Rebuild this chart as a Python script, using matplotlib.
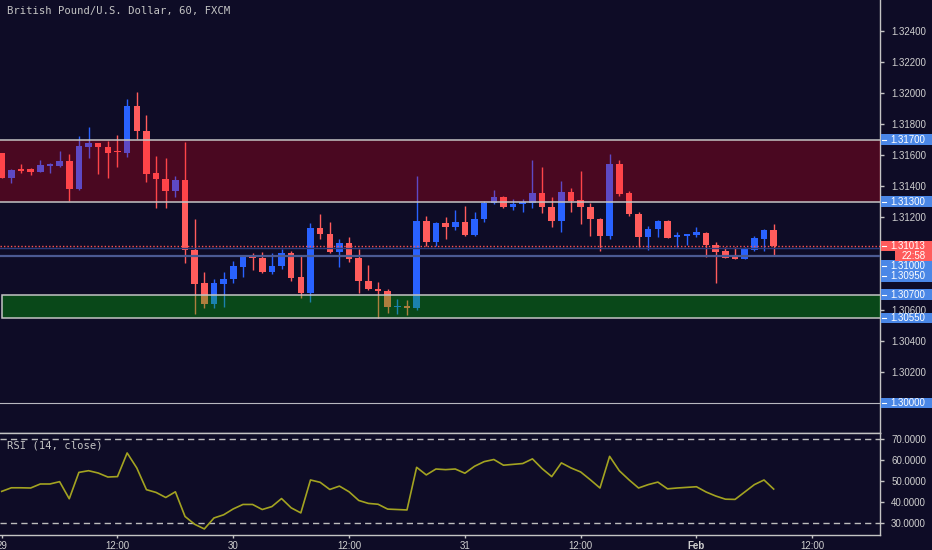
import matplotlib
matplotlib.use("Agg")
import matplotlib.pyplot as plt
import matplotlib.transforms as mtransforms
from matplotlib.patches import Rectangle
from matplotlib.lines import Line2D
import numpy as np

plt.rcParams['font.family'] = ['Liberation Sans', 'DejaVu Sans']

# ---------------- data (GBP/USD, 60 min, FXCM) ----------------
opens = [1.31611, 1.31454, 1.31510, 1.31507, 1.31492, 1.31532, 1.31529, 1.31561, 1.31380, 1.31653,
         1.31679, 1.31653, 1.31619, 1.31614, 1.31914, 1.31756, 1.31481, 1.31447, 1.31369, 1.31438,
         1.30987, 1.30772, 1.30639, 1.30769, 1.30798, 1.30877, 1.30944, 1.30937, 1.30843, 1.30882,
         1.30966, 1.30811, 1.30708, 1.31131, 1.31092, 1.30976, 1.31032, 1.30935, 1.30787, 1.30735,
         1.30724, 1.30621, 1.30626, 1.30611, 1.31172, 1.31040, 1.31159, 1.31135, 1.31167, 1.31082,
         1.31187, 1.31288, 1.31327, 1.31262, 1.31282, 1.31290, 1.31353, 1.31266, 1.31176, 1.31359,
         1.31307, 1.31266, 1.31187, 1.31077, 1.31540, 1.31353, 1.31219, 1.31073, 1.31120, 1.31172,
         1.31069, 1.31077, 1.31084, 1.31098, 1.31019, 1.30978, 1.30940, 1.30927, 1.30987, 1.31058,
         1.31116]
highs = [1.31613, 1.31510, 1.31540, 1.31518, 1.31565, 1.31548, 1.31625, 1.31606, 1.31724, 1.31778,
         1.31680, 1.31692, 1.31729, 1.31961, 1.32004, 1.31856, 1.31593, 1.31582, 1.31464, 1.31685,
         1.31185, 1.30843, 1.30800, 1.30843, 1.30914, 1.30955, 1.30966, 1.30972, 1.30966, 1.30995,
         1.30980, 1.30955, 1.31159, 1.31221, 1.31167, 1.31058, 1.31069, 1.30991, 1.30890, 1.30780,
         1.30735, 1.30671, 1.30664, 1.31464, 1.31204, 1.31169, 1.31198, 1.31245, 1.31271, 1.31230,
         1.31303, 1.31374, 1.31337, 1.31318, 1.31316, 1.31567, 1.31520, 1.31329, 1.31430, 1.31389,
         1.31496, 1.31290, 1.31193, 1.31606, 1.31567, 1.31367, 1.31232, 1.31142, 1.31180, 1.31180,
         1.31103, 1.31090, 1.31137, 1.31105, 1.31037, 1.31004, 1.31004, 1.31004, 1.31077, 1.31124,
         1.31155]
lows = [1.31450, 1.31417, 1.31482, 1.31471, 1.31488, 1.31484, 1.31524, 1.31303, 1.31374, 1.31582,
        1.31477, 1.31451, 1.31524, 1.31589, 1.31701, 1.31424, 1.31256, 1.31256, 1.31331, 1.30901,
        1.30572, 1.30611, 1.30611, 1.30617, 1.30772, 1.30815, 1.30856, 1.30840, 1.30832, 1.30862,
        1.30789, 1.30675, 1.30653, 1.31056, 1.30966, 1.30875, 1.30909, 1.30708, 1.30728, 1.30546,
        1.30582, 1.30574, 1.30568, 1.30600, 1.31013, 1.31013, 1.31058, 1.31116, 1.31077, 1.31077,
        1.31169, 1.31287, 1.31258, 1.31245, 1.31230, 1.31260, 1.31224, 1.31137, 1.31103, 1.31232,
        1.31155, 1.31077, 1.30980, 1.31056, 1.31337, 1.31206, 1.31004, 1.30987, 1.31073, 1.31064,
        1.31008, 1.31019, 1.31069, 1.30944, 1.30776, 1.30935, 1.30927, 1.30927, 1.30980, 1.30980,
        1.30955]
closes = [1.31454, 1.31503, 1.31498, 1.31492, 1.31535, 1.31535, 1.31561, 1.31380, 1.31660, 1.31679,
          1.31649, 1.31614, 1.31617, 1.31914, 1.31754, 1.31479, 1.31445, 1.31369, 1.31438, 1.30987,
          1.30769, 1.30639, 1.30774, 1.30800, 1.30882, 1.30942, 1.30933, 1.30843, 1.30884, 1.30966,
          1.30806, 1.30708, 1.31131, 1.31090, 1.30976, 1.31032, 1.30931, 1.30787, 1.30733, 1.30724,
          1.30621, 1.30626, 1.30611, 1.31174, 1.31040, 1.31161, 1.31135, 1.31167, 1.31082, 1.31189,
          1.31290, 1.31327, 1.31262, 1.31282, 1.31296, 1.31355, 1.31262, 1.31176, 1.31359, 1.31303,
          1.31264, 1.31185, 1.31077, 1.31540, 1.31348, 1.31219, 1.31073, 1.31122, 1.31172, 1.31066,
          1.31082, 1.31090, 1.31103, 1.31017, 1.30976, 1.30937, 1.30927, 1.30991, 1.31062, 1.31116,
          1.31013]
rsi = [45.1, 46.8, 46.8, 46.7, 48.6, 48.6, 49.7, 41.6, 54.1, 54.9,
       53.8, 51.9, 52.1, 63.3, 56.2, 45.9, 44.6, 42.2, 44.9, 33.2,
       29.5, 27.3, 32.5, 34.0, 36.8, 38.9, 38.9, 36.5, 37.9, 41.7,
       37.3, 34.9, 50.5, 49.4, 46.0, 47.6, 44.9, 40.8, 39.4, 39.0,
       36.7, 36.5, 36.3, 56.5, 52.9, 55.7, 55.4, 55.7, 53.7, 57.0,
       59.2, 60.2, 57.5, 57.9, 58.3, 60.5, 55.9, 52.1, 58.6, 56.2,
       54.3, 50.6, 46.7, 61.7, 54.9, 50.6, 46.7, 48.3, 49.5, 46.3,
       46.7, 47.0, 47.3, 44.8, 42.9, 41.4, 41.3, 44.8, 48.3, 50.5,
       46.2]

time_ticks = [0, 12, 24, 36, 48, 60, 72, 84]
time_labels = ['29', '12:00', '30', '12:00', '31', '12:00', 'Feb', '12:00']
price_ticks = [1.324, 1.322, 1.320, 1.318, 1.316, 1.314, 1.312, 1.306, 1.304, 1.302]
rsi_ticks = [30, 40, 50, 60, 70]

supply_zone = (1.3130, 1.3170)
demand_zone = (1.3055, 1.3070)
level_lines = [1.3100, 1.3095, 1.3000]
last_price = 1.31013
countdown = '22:58'

# ---------------- style ----------------
BG = '#0e0c26'
UP = '#2962ff'
DOWN = '#ff5c5c'
GRID = '#c4c4c4'
TXT = '#cfcfcf'
LBL_BLUE = '#4a87e6'

W, H = 932, 550
fig = plt.figure(figsize=(W / 100, H / 100), dpi=100)
fig.patch.set_facecolor(BG)

ax = fig.add_axes([0, (H - 433) / H, 880 / W, 433 / H])
rax = fig.add_axes([0, (H - 535) / H, 880 / W, 102 / H])
for a in (ax, rax):
    a.set_facecolor(BG)
    for s in a.spines.values():
        s.set_color(GRID)
        s.set_linewidth(1.0)
    a.spines['left'].set_visible(False)

ax.spines['top'].set_visible(False)
n = len(opens)
x = np.arange(n)
o = np.array(opens); c = np.array(closes); hi = np.array(highs); lo = np.array(lows)
cols = [UP if cc >= oo else DOWN for oo, cc in zip(o, c)]

ax.vlines(x, lo, hi, colors=cols, lw=1.0, zorder=2)
heights = np.maximum(np.abs(c - o), 0.00008)
ax.bar(x, heights, bottom=np.minimum(o, c), width=0.68, color=cols, linewidth=0, zorder=2.1)

xmin, xmax = -0.176, 91.02
ax.set_xlim(xmin, xmax)
ax.set_ylim(1.298065, 1.326)

# zones (overlay on top of candles)
ax.add_patch(Rectangle((-5, supply_zone[0]), 200, supply_zone[1] - supply_zone[0],
                       facecolor=(1.0, 0.0, 0.08, 0.25), edgecolor=GRID, lw=1.1, zorder=3))
ax.add_patch(Rectangle((-0.02, demand_zone[0]), 200, demand_zone[1] - demand_zone[0],
                       facecolor=(0.0, 0.78, 0.0, 0.32), edgecolor=GRID, lw=1.1, zorder=3))

ax.axhline(level_lines[0], color='#2c3c7c', lw=1.0, zorder=3.5)
ax.axhline(level_lines[1], color='#4b5a92', lw=1.6, zorder=3.5)
ax.axhline(level_lines[2], color='#b8b8c0', lw=0.8, zorder=3.5)
ax.axhline(last_price, color='#ff5252', lw=1.0, ls=(0, (1, 1.5)), zorder=3.6)

ax.set_xticks([])
ax.yaxis.tick_right()
ax.set_yticks(price_ticks)
ax.set_yticklabels([f'{v:.5f}' for v in price_ticks])
ax.tick_params(axis='y', colors=GRID, labelcolor=TXT, labelsize=7, length=3, width=1, pad=5)

# RSI panel
rax.plot(x, rsi, color='#a3a321', lw=1.2, zorder=3)
for lvl in (70, 30):
    rax.axhline(lvl, color='#bdbdbd', lw=1.0, ls=(0, (4.5, 3)), zorder=2)
rax.set_xlim(xmin, xmax)
rax.set_ylim(24.43, 72.76)
rax.yaxis.tick_right()
rax.set_yticks(rsi_ticks)
rax.set_yticklabels([f'{v:.4f}' for v in rsi_ticks])
rax.tick_params(axis='y', colors=GRID, labelcolor=TXT, labelsize=7, length=3, width=1, pad=5)
rax.set_xticks(time_ticks)
rax.set_xticklabels(time_labels)
rax.tick_params(axis='x', colors=GRID, labelcolor=TXT, labelsize=7, length=2.5, width=1, pad=2)
for t in rax.get_xticklabels():
    if t.get_text() == 'Feb':
        t.set_fontweight('bold')

# right-axis price labels in boxes
def rlabel(yv, txt, fc, dy=0.0, x0=881, tick=True):
    trans = (mtransforms.blended_transform_factory(fig.transFigure, ax.transData)
             + mtransforms.ScaledTranslation(0, -dy / 100, fig.dpi_scale_trans))
    h = 10.5 / 15500
    fig.add_artist(Rectangle((x0 / W, yv - h / 2), (W - x0) / W, h, transform=trans,
                             facecolor=fc, edgecolor='none', zorder=5))
    if tick:
        fig.add_artist(Line2D([882 / W, 886 / W], [yv, yv], transform=trans, color='white',
                              lw=0.8, zorder=6))
        fig.text(890 / W, yv, txt, transform=trans, color='white', fontsize=7,
                 va='center', ha='left', zorder=6)
    else:
        fig.text((x0 + W) / 2 / W, yv, txt, transform=trans, color='white', fontsize=7,
                 va='center', ha='center', zorder=6)

rlabel(supply_zone[1], f'{supply_zone[1]:.5f}', LBL_BLUE)
rlabel(supply_zone[0], f'{supply_zone[0]:.5f}', LBL_BLUE)
rlabel(level_lines[0], f'{level_lines[0]:.5f}', LBL_BLUE, dy=17.5)
rlabel(level_lines[1], f'{level_lines[1]:.5f}', LBL_BLUE, dy=20.5)
rlabel(demand_zone[1], f'{demand_zone[1]:.5f}', LBL_BLUE)
rlabel(demand_zone[0], f'{demand_zone[0]:.5f}', LBL_BLUE)
rlabel(level_lines[2], f'{level_lines[2]:.5f}', LBL_BLUE)
rlabel(last_price, f'{last_price:.5f}', DOWN)
rlabel(last_price, countdown, DOWN, dy=10, x0=895, tick=False)

# texts
fig.text(7 / W, 1 - 11 / H, 'British Pound/U.S. Dollar, 60, FXCM', family='DejaVu Sans Mono',
         fontsize=7.6, color='#c4c4c4', va='center', ha='left')
fig.text(7 / W, 1 - 445 / H, 'RSI (14, close)', family='DejaVu Sans Mono',
         fontsize=7.6, color='#c4c4c4', va='center', ha='left')

fig.savefig('out.png', dpi=100, facecolor=BG)
